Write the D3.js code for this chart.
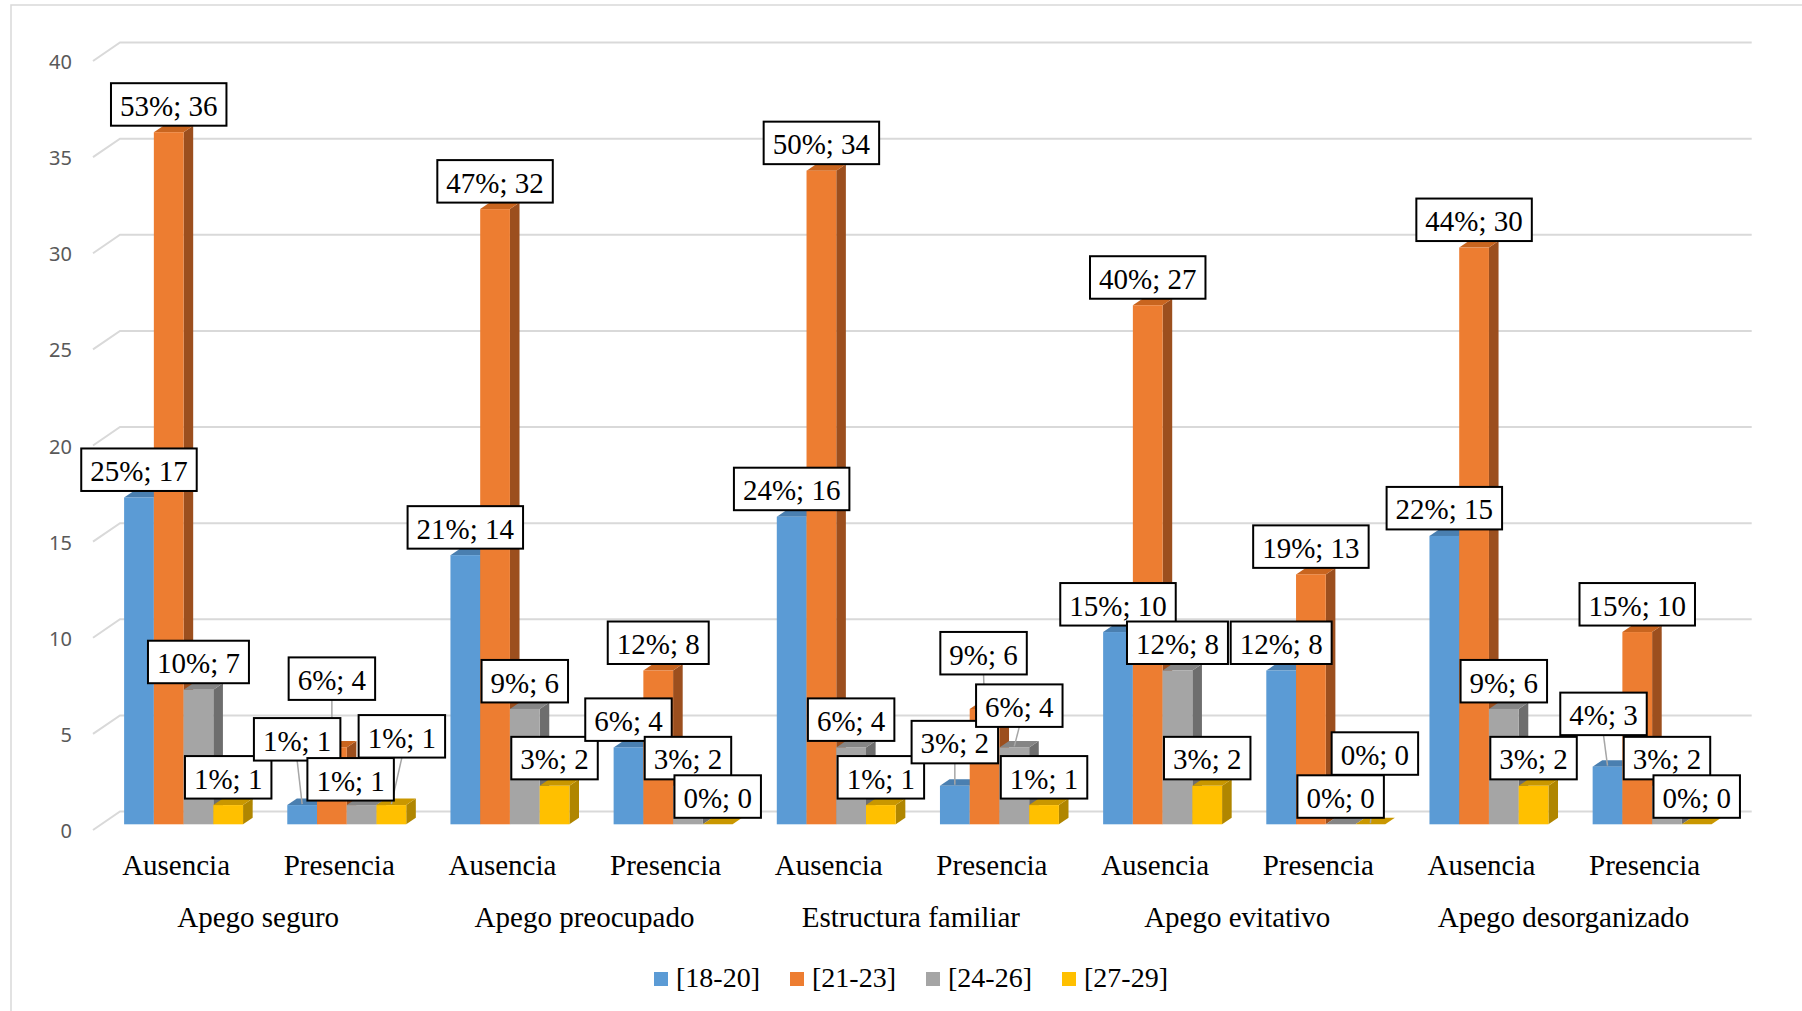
<!DOCTYPE html>
<html>
<head>
<meta charset="utf-8">
<script src="https://cdn.jsdelivr.net/npm/d3@7"></script>
<style>
  html, body { margin: 0; padding: 0; background: #fff; }
  svg { display: block; }
</style>
</head>
<body>
<svg id="chart" width="1802" height="1011"></svg>
<script>
// ---- data ----
const groups = ["Apego seguro", "Apego preocupado", "Estructura familiar", "Apego evitativo", "Apego desorganizado"];
const levels = ["Ausencia", "Presencia"];
const seriesNames = ["[18-20]", "[21-23]", "[24-26]", "[27-29]"];
// counts per category, ordered group by group (Ausencia, Presencia)
const age18_20 = [17, 1, 14, 4, 16, 2, 10, 8, 15, 3];
const age21_23 = [36, 4, 32, 8, 34, 6, 27, 13, 30, 10];
const age24_26 = [7, 1, 6, 2, 4, 4, 8, 0, 6, 2];
const age27_29 = [1, 1, 2, 0, 1, 1, 2, 0, 2, 0];
const yTicks = [0, 5, 10, 15, 20, 25, 30, 35, 40];
// labels moved by hand off their bars: [series, category, dx, dy]
const labelNudges = [
  [0, 1, -5, -38], [1, 1, 0, -41], [2, 1, -11, 2], [3, 1, 10.5, -41],
  [0, 5, 0, -16], [1, 5, -1, -28], [2, 5, 5, -14],
  [3, 7, 4.5, -43],
  [0, 9, -4, -25]
];

const seriesValues = [age18_20, age21_23, age24_26, age27_29];
const faceColors = [
  { front: "#5B9BD5", side: "#41719C", top: "#4A7FB0" },
  { front: "#ED7D31", side: "#9C4F1E", top: "#C9651F" },
  { front: "#A5A5A5", side: "#6E6E6E", top: "#858585" },
  { front: "#FFC000", side: "#B08600", top: "#C99700" }
];

const categories = [];
groups.forEach((g, gi) => levels.forEach((l, li) => categories.push({ key: gi + "|" + li, group: g, level: l, gi })));

// ---- layout ----
const svg = d3.select("#chart");
const floorLeft = 93, floorRight = 1724.7;
const depth = { dx: 27, dy: -18.5 };        // floor depth vector
const barFront = { dx: 9, dy: -5.7 };       // bar front plane offset from floor front
const barDepth = { dx: 9.6, dy: -6.5 };     // bar thickness in depth

const yFront = d3.scaleLinear().domain([0, 40]).range([830, 61]);
const x = d3.scaleBand().domain(categories.map(c => c.key))
  .range([floorLeft, floorRight]).paddingInner(0.271).paddingOuter(0.1355);
const xs = d3.scaleBand().domain(d3.range(seriesNames.length)).range([0, x.bandwidth()]);

// chart area frame
svg.append("rect").attr("x", 11).attr("y", 5).attr("width", 1840).attr("height", 1040)
  .attr("fill", "none").attr("stroke", "#D9D9D9").attr("stroke-width", 1.5);

// gridlines (with perspective)
svg.append("g").selectAll("path").data(yTicks).join("path")
  .attr("d", v => {
    const yf = yFront(v), yb = yf + depth.dy;
    return `M${floorLeft},${yf}L${floorLeft + depth.dx},${yb}L${floorRight + depth.dx},${yb}`;
  })
  .attr("fill", "none").attr("stroke", "#D9D9D9").attr("stroke-width", 2);

// value axis labels
svg.append("g").selectAll("text").data(yTicks).join("text")
  .attr("x", 72).attr("y", v => yFront(v) + 1).attr("dy", "0.35em")
  .attr("text-anchor", "end")
  .attr("font-family", "'Noto Sans', 'Open Sans', sans-serif").attr("font-size", 20)
  .attr("fill", "#595959").text(v => v);

// bars: build a flat list in left-to-right drawing order
const bars = [];
categories.forEach((c, ci) => {
  seriesValues.forEach((vals, si) => {
    const v = vals[ci];
    const x0 = x(c.key) + xs(si) + barFront.dx;
    const w = xs.bandwidth();
    const yb = yFront(0) + barFront.dy;
    const yt = yFront(v) + barFront.dy;
    bars.push({ ci, si, v, x0, w, yb, yt });
  });
});

const barG = svg.append("g");
bars.forEach(b => {
  const c = faceColors[b.si];
  const g = barG.append("g");
  const dx = barDepth.dx, dy = barDepth.dy;
  // right side face
  g.append("path")
    .attr("d", `M${b.x0 + b.w},${b.yb}L${b.x0 + b.w + dx},${b.yb + dy}L${b.x0 + b.w + dx},${b.yt + dy}L${b.x0 + b.w},${b.yt}Z`)
    .attr("fill", c.side);
  // top face
  g.append("path")
    .attr("d", `M${b.x0},${b.yt}L${b.x0 + dx},${b.yt + dy}L${b.x0 + b.w + dx},${b.yt + dy}L${b.x0 + b.w},${b.yt}Z`)
    .attr("fill", c.top);
  // front face
  if (b.v > 0) {
    g.append("rect").attr("x", b.x0).attr("y", b.yt).attr("width", b.w).attr("height", b.yb - b.yt)
      .attr("fill", c.front);
  }
});

// category labels
const serif = "'Liberation Serif', 'Times New Roman', serif";
svg.append("g").selectAll("text").data(categories).join("text")
  .attr("x", c => x(c.key) + x.bandwidth() / 2 + 1.5).attr("y", 875)
  .attr("text-anchor", "middle").attr("font-family", serif).attr("font-size", 29)
  .attr("fill", "#000").text(c => c.level);

// group labels
svg.append("g").selectAll("text").data(groups).join("text")
  .attr("x", (g, gi) => {
    const a = x(gi + "|0") + x.bandwidth() / 2, b = x(gi + "|1") + x.bandwidth() / 2;
    return (a + b) / 2 + 2;
  })
  .attr("y", 927)
  .attr("text-anchor", "middle").attr("font-family", serif).attr("font-size", 29)
  .attr("fill", "#000").text(g => g);

// data labels: "percent of group total; count"
const groupTotals = groups.map((g, gi) =>
  d3.sum(seriesValues, vals => vals[gi * 2] + vals[gi * 2 + 1]));
const nudgeMap = new Map(labelNudges.map(n => [n[0] + "|" + n[1], n]));
const boxH = 42.5, padX = 9;
const leaderG = svg.append("g");
const labelG = svg.append("g");
bars.forEach(b => {
  const total = groupTotals[categories[b.ci].gi];
  const txt = `${Math.round(b.v / total * 100)}%; ${b.v}`;
  const n = nudgeMap.get(b.si + "|" + b.ci);
  const ndx = n ? n[2] : 0, ndy = n ? n[3] : 0;
  const cx = b.x0 + b.w / 2 + ndx;
  const cy = b.yt - 6.5 - boxH / 2 + ndy;
  const g = labelG.append("g");
  const rect = g.append("rect");
  const t = g.append("text").attr("x", cx).attr("y", cy + 11.3)
    .attr("text-anchor", "middle").attr("font-family", serif).attr("font-size", 29)
    .attr("fill", "#000").text(txt);
  const tw = t.node().getComputedTextLength();
  const bw = tw + 2 * padX;
  rect.attr("x", cx - bw / 2).attr("y", cy - boxH / 2).attr("width", bw).attr("height", boxH)
    .attr("fill", "#fff").attr("stroke", "#000").attr("stroke-width", 2);
  // leader line when the label sits away from its bar
  const anchorX = b.x0 + b.w / 2, anchorY = b.yt - 1;
  if (anchorY > cy + boxH / 2 + 8) {
    leaderG.append("line")
      .attr("x1", cx).attr("y1", cy + boxH / 2).attr("x2", anchorX).attr("y2", anchorY)
      .attr("stroke", "#A6A6A6").attr("stroke-width", 1.5);
  }
});

// legend
const legend = svg.append("g");
const legendX = d3.scalePoint().domain(seriesNames).range([654, 654 + 136 * 3]);
seriesNames.forEach((s, si) => {
  const lx = legendX(s);
  legend.append("rect").attr("x", lx).attr("y", 972).attr("width", 14).attr("height", 14)
    .attr("fill", faceColors[si].front);
  legend.append("text").attr("x", lx + 22).attr("y", 987)
    .attr("font-family", serif).attr("font-size", 28).attr("fill", "#000").text(s);
});
</script>
</body>
</html>
